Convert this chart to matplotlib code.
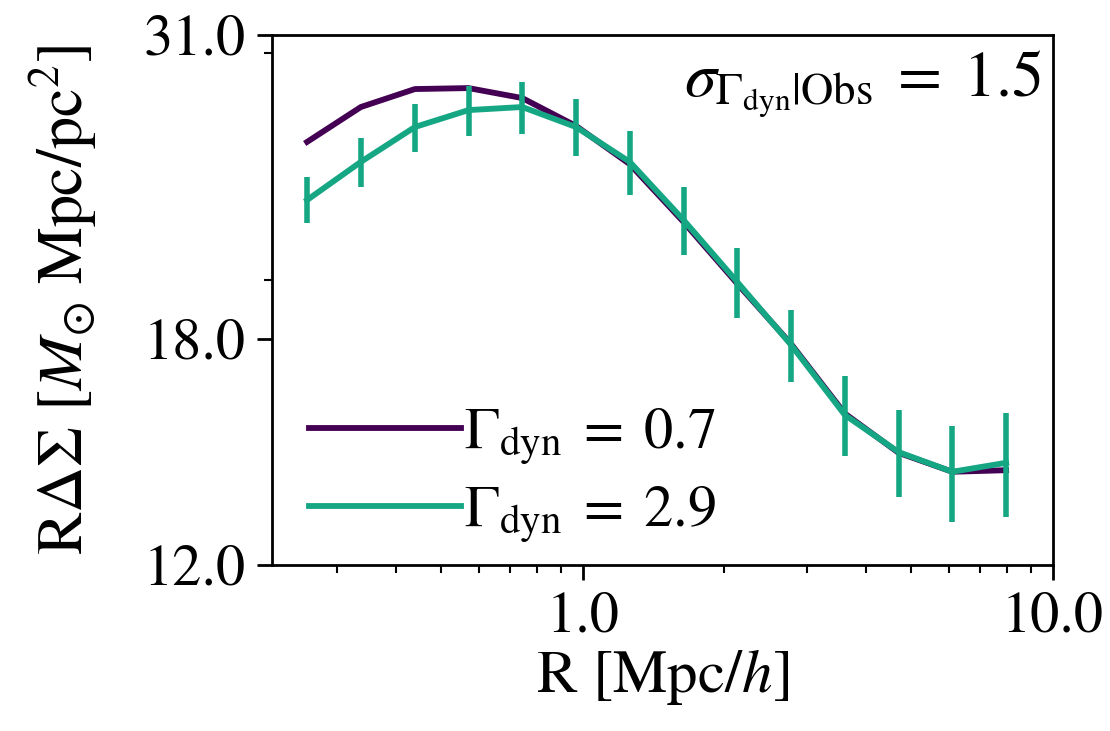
import numpy as np
import matplotlib
matplotlib.use('Agg')
import matplotlib.pyplot as plt
from matplotlib.ticker import FixedLocator, FormatStrFormatter, NullFormatter, LogLocator

# ==========================================
# data
# ==========================================
R = [0.259, 0.337, 0.439, 0.571, 0.743, 0.967, 1.258, 1.637,
     2.130, 2.772, 3.607, 4.694, 6.108, 7.95]

# Gamma_dyn = 0.7
rds_low = [25.60, 27.25, 28.14, 28.19, 27.69, 26.34, 24.60, 22.18,
           19.86, 17.83, 15.74, 14.67, 14.18, 14.22]

# Gamma_dyn = 2.9 (with error bars)
rds_high = [23.07, 24.70, 26.29, 27.10, 27.25, 26.29, 24.70, 22.26,
            19.92, 17.80, 15.70, 14.69, 14.18, 14.41]
rds_high_err = [0.95, 1.08, 1.13, 1.21, 1.27, 1.34, 1.42, 1.36,
                1.25, 1.15, 1.12, 1.14, 1.22, 1.34]

labels = [r'$\Gamma_{\rm dyn}\;=\;0.7$', r'$\Gamma_{\rm dyn}\;=\;2.9$']
colors = ['#440154', '#15a783']

y_ticks = [12.0, 18.0, 31.0]
x_ticks = [1.0, 10.0]

# ==========================================
# plot
# ==========================================
plt.rcParams['font.family'] = ['STIXGeneral', 'DejaVu Serif']
plt.rcParams['mathtext.fontset'] = 'stix'
plt.rcParams['font.size'] = 42

fig = plt.figure(figsize=(11.1, 7.31), dpi=100)
ax = fig.add_axes([0.245, 0.2271, 0.7036, 0.7250])

ax.plot(R, rds_low, color=colors[0], lw=4.2, label=labels[0])
ax.plot(R, rds_high, color=colors[1], lw=4.2, label=labels[1])
ax.errorbar(R, rds_high, yerr=rds_high_err, fmt='none', ecolor=colors[1],
            elinewidth=4.0, capsize=0)

ax.set_xscale('log')
ax.set_yscale('log')
ax.set_xlim(0.218, 10.0)
ax.set_ylim(12.0, 31.0)

ax.xaxis.set_major_locator(FixedLocator(x_ticks))
ax.xaxis.set_major_formatter(FormatStrFormatter('%.1f'))
ax.xaxis.set_minor_locator(LogLocator(subs=np.arange(2, 10)))
ax.xaxis.set_minor_formatter(NullFormatter())
ax.yaxis.set_major_locator(FixedLocator(y_ticks))
ax.yaxis.set_major_formatter(FormatStrFormatter('%.1f'))
ax.yaxis.set_minor_locator(FixedLocator([20.0, 30.0]))
ax.yaxis.set_minor_formatter(NullFormatter())

ax.tick_params(which='major', length=11, width=2, labelsize=42, pad=8)
ax.tick_params(which='minor', length=5.5, width=1.5)
for s in ax.spines.values():
    s.set_linewidth(2)

ax.set_xlabel(r'R [Mpc/$h$]', fontsize=44, labelpad=2)
ax.set_ylabel(r'R$\Delta\Sigma$ $[M_{\odot}\ \mathrm{Mpc/pc^2}]$', fontsize=46, labelpad=32)

ax.text(0.985, 0.975, r'$\sigma_{\Gamma_{\rm dyn}|{\rm Obs}}\;=\;1.5$',
        transform=ax.transAxes, ha='right', va='top', fontsize=46)

ax.legend(loc='lower left', bbox_to_anchor=(0.014, -0.012), frameon=False,
          fontsize=42, handlelength=2.6, handletextpad=0.05, labelspacing=0.3,
          borderaxespad=0.05)

fig.savefig('out.png', dpi=100)
